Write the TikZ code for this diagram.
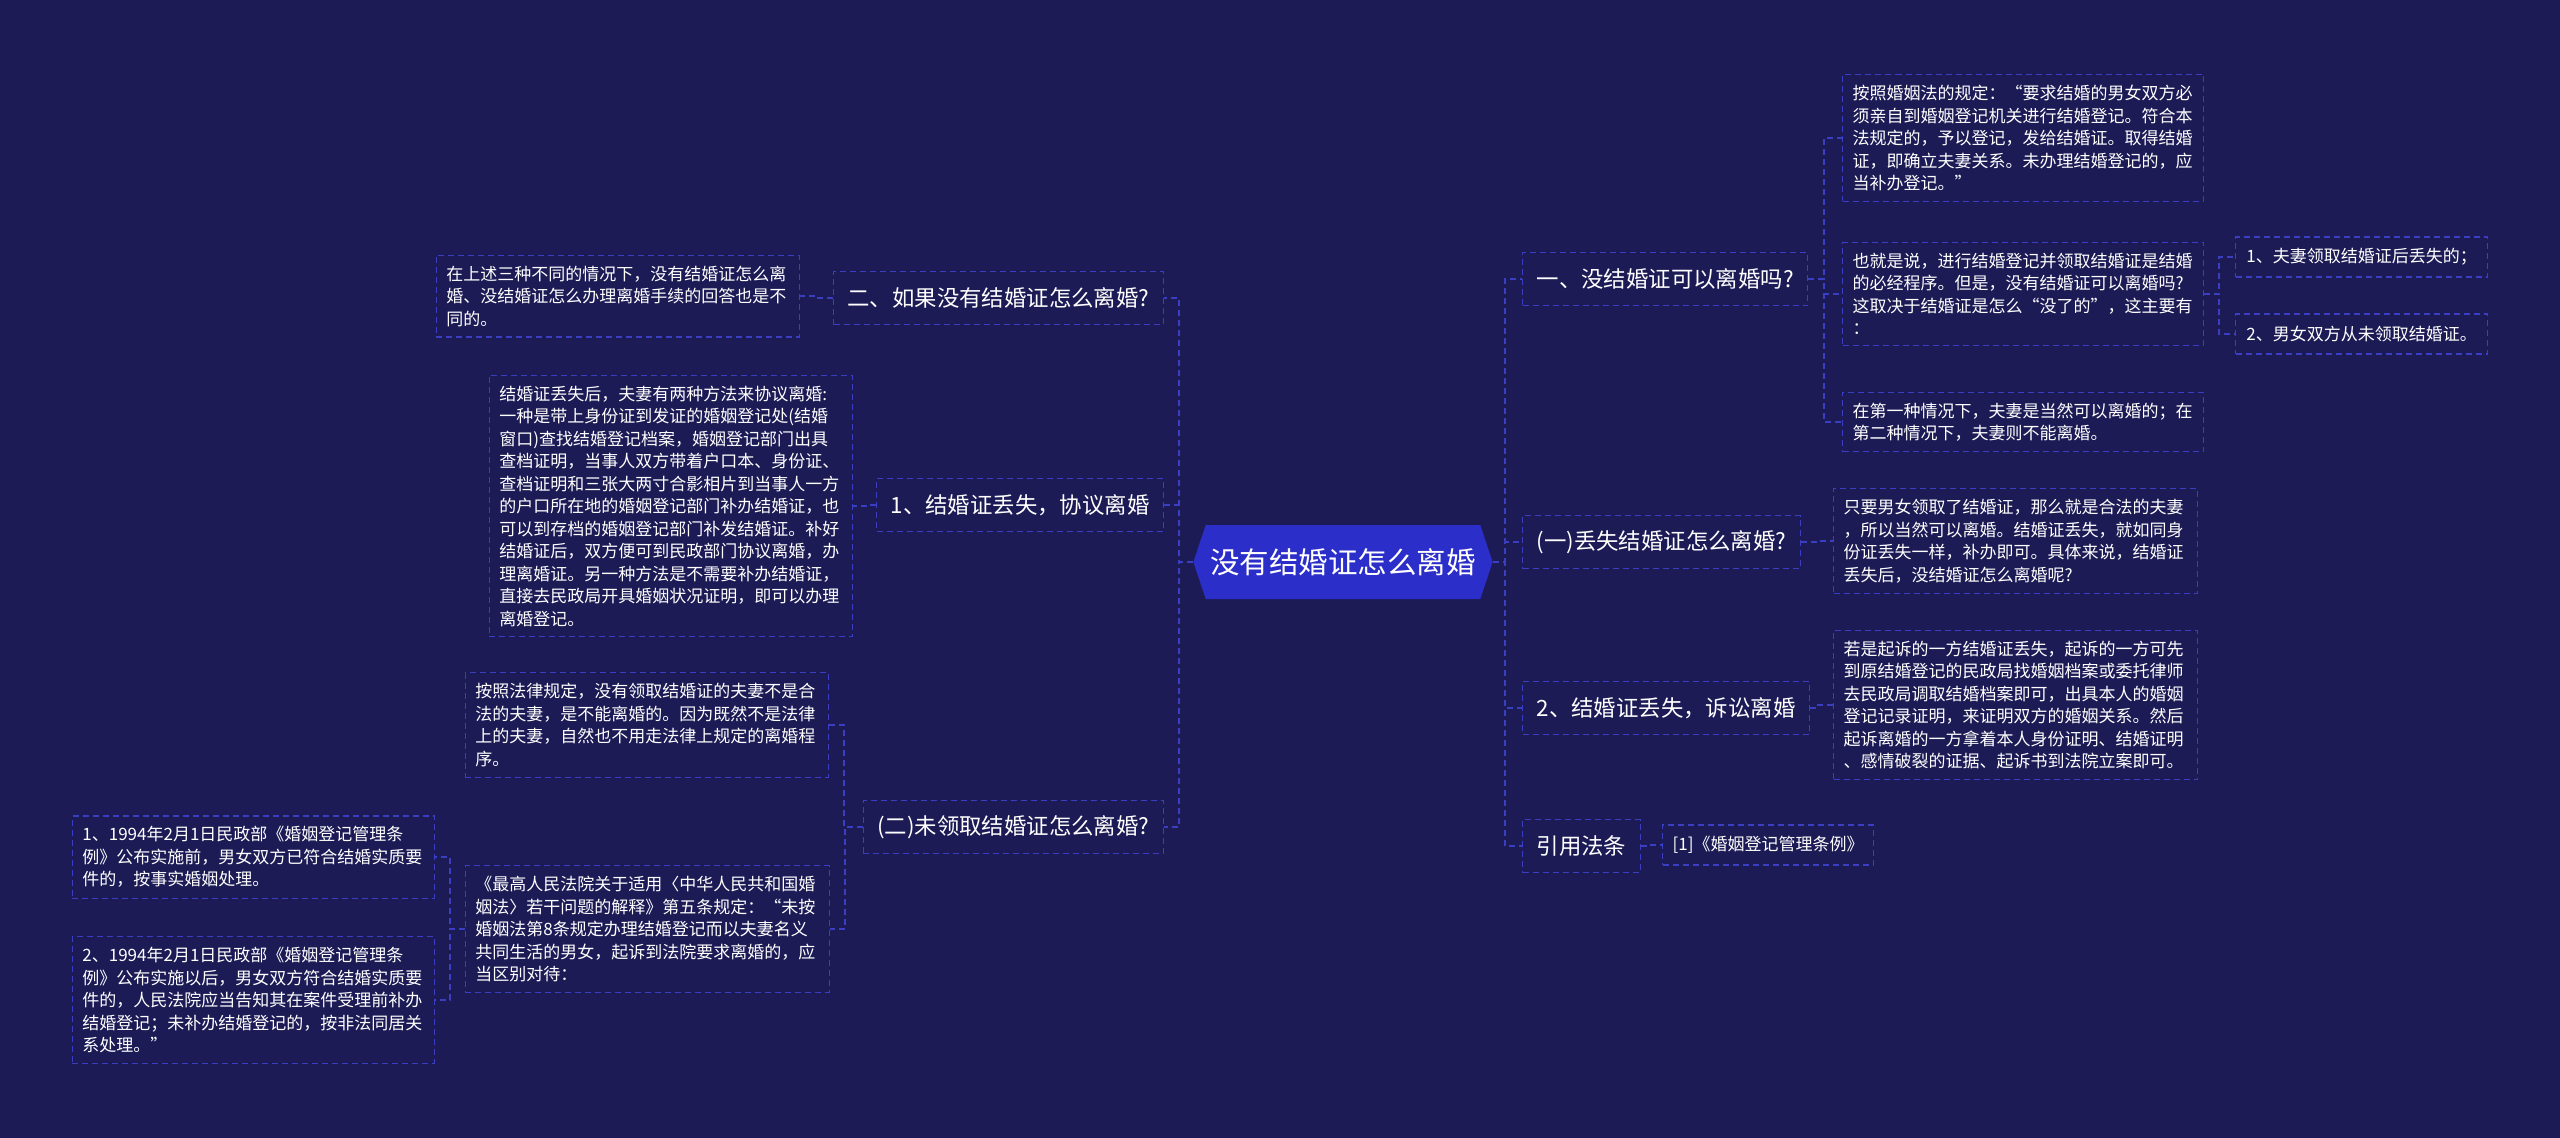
\documentclass[tikz,border=0pt]{standalone}
\usepackage{fontspec}
\setmainfont{Noto Sans CJK SC}
\usetikzlibrary{shapes.symbols}
\definecolor{cbg}{HTML}{1C1B56}
\definecolor{cblue}{HTML}{2B2EC8}
\definecolor{cdash}{HTML}{3A3FC2}

\begin{document}
\begin{tikzpicture}[x=1pt,y=-1pt,
  root/.style={shape=signal,signal to=east and west,signal pointer angle=143,
    fill=cblue,text=white,font=\fontsize{29.5}{33}\selectfont,
    minimum height=74pt,inner xsep=4.5pt,inner ysep=0pt},
  topic/.style={draw=cdash,line width=1.2pt,dash pattern=on 6pt off 4pt,
    text=white,font=\fontsize{22.4}{27}\selectfont,minimum height=53pt,inner xsep=14pt},
  note/.style={draw=cdash,line width=1.2pt,dash pattern=on 6pt off 4pt,
    text=white,font=\fontsize{17}{22.5}\selectfont,align=left,
    inner xsep=10pt,inner ysep=10.5pt,text width=#1},
  note/.default=341pt,
  leaf/.style={draw=cdash,line width=1.2pt,dash pattern=on 6pt off 4pt,
    text=white,font=\fontsize{17}{22.5}\selectfont,minimum height=40pt,inner xsep=10pt},
  link/.style={draw=cdash,line width=1.5pt,dash pattern=on 6pt off 4pt}]
  \useasboundingbox (0,0) rectangle (2560,1138);
  \fill[cbg] (0,0) rectangle (2560,1138);

  \node[root] (r) at (1343,562) {没有结婚证怎么离婚};

  % right branch
  \node[topic,anchor=west] (a) at (1522,279) {一、没结婚证可以离婚吗?};
  \node[topic,anchor=west] (b) at (1522,542) {(一)丢失结婚证怎么离婚?};
  \node[topic,anchor=west] (c) at (1522,708) {2、结婚证丢失，诉讼离婚};
  \node[topic,anchor=west] (d) at (1522,846) {引用法条};

  \node[note,anchor=west] (a1) at (1842,138) {按照婚姻法的规定：“要求结婚的男女双方必\\须亲自到婚姻登记机关进行结婚登记。符合本\\法规定的，予以登记，发给结婚证。取得结婚\\证，即确立夫妻关系。未办理结婚登记的，应\\当补办登记。”};
  \node[note,anchor=west] (a2) at (1842,294) {也就是说，进行结婚登记并领取结婚证是结婚\\的必经程序。但是，没有结婚证可以离婚吗?\\这取决于结婚证是怎么“没了的”，这主要有\\：};
  \node[note,anchor=west] (a3) at (1842,422) {在第一种情况下，夫妻是当然可以离婚的；在\\第二种情况下，夫妻则不能离婚。};
  \node[leaf,anchor=west,minimum width=252pt,align=left] (a21) at (2235,257) {1、夫妻领取结婚证后丢失的；};
  \node[leaf,anchor=west,minimum width=252pt,align=left] (a22) at (2235,334) {2、男女双方从未领取结婚证。};
  \node[note=344pt,anchor=west] (b1) at (1833,541) {只要男女领取了结婚证，那么就是合法的夫妻\\，所以当然可以离婚。结婚证丢失，就如同身\\份证丢失一样，补办即可。具体来说，结婚证\\丢失后，没结婚证怎么离婚呢?};
  \node[note=344pt,anchor=west] (c1) at (1833,705) {若是起诉的一方结婚证丢失，起诉的一方可先\\到原结婚登记的民政局找婚姻档案或委托律师\\去民政局调取结婚档案即可，出具本人的婚姻\\登记记录证明，来证明双方的婚姻关系。然后\\起诉离婚的一方拿着本人身份证明、结婚证明\\、感情破裂的证据、起诉书到法院立案即可。};
  \node[leaf,anchor=west] (d1) at (1662,845) {[1]《婚姻登记管理条例》};

  % left branch
  \node[topic,anchor=east] (e) at (1164,298) {二、如果没有结婚证怎么离婚?};
  \node[topic,anchor=east] (f) at (1164,505) {1、结婚证丢失，协议离婚};
  \node[topic,anchor=east] (g) at (1164,827) {(二)未领取结婚证怎么离婚?};

  \node[note=343pt,anchor=east] (e1) at (800,296) {在上述三种不同的情况下，没有结婚证怎么离\\婚、没结婚证怎么办理离婚手续的回答也是不\\同的。};
  \node[note=343pt,anchor=east] (f1) at (853,506) {结婚证丢失后，夫妻有两种方法来协议离婚:\\一种是带上身份证到发证的婚姻登记处(结婚\\窗口)查找结婚登记档案，婚姻登记部门出具\\查档证明，当事人双方带着户口本、身份证、\\查档证明和三张大两寸合影相片到当事人一方\\的户口所在地的婚姻登记部门补办结婚证，也\\可以到存档的婚姻登记部门补发结婚证。补好\\结婚证后，双方便可到民政部门协议离婚，办\\理离婚证。另一种方法是不需要补办结婚证，\\直接去民政局开具婚姻状况证明，即可以办理\\离婚登记。};
  \node[note=343pt,anchor=east] (g1) at (829,725) {按照法律规定，没有领取结婚证的夫妻不是合\\法的夫妻，是不能离婚的。因为既然不是法律\\上的夫妻，自然也不用走法律上规定的离婚程\\序。};
  \node[note=344pt,anchor=east] (g2) at (830,929) {《最高人民法院关于适用〈中华人民共和国婚\\姻法〉若干问题的解释》第五条规定：“未按\\婚姻法第8条规定办理结婚登记而以夫妻名义\\共同生活的男女，起诉到法院要求离婚的，应\\当区别对待：};
  \node[note=342pt,anchor=east] (g21) at (435,857) {1、1994年2月1日民政部《婚姻登记管理条\\例》公布实施前，男女双方已符合结婚实质要\\件的，按事实婚姻处理。};
  \node[note=342pt,anchor=east] (g22) at (435,1000) {2、1994年2月1日民政部《婚姻登记管理条\\例》公布实施以后，男女双方符合结婚实质要\\件的，人民法院应当告知其在案件受理前补办\\结婚登记；未补办结婚登记的，按非法同居关\\系处理。”};

  % connectors
  \draw[link] (r.east) -| ([xshift=-17pt]a.west) -- (a.west);
  \draw[link] (r.east) -| ([xshift=-17pt]b.west) -- (b.west);
  \draw[link] (r.east) -| ([xshift=-17pt]c.west) -- (c.west);
  \draw[link] (r.east) -| ([xshift=-17pt]d.west) -- (d.west);
  \draw[link] (a.east) -| ([xshift=-18pt]a1.west) -- (a1.west);
  \draw[link] (a.east) -| ([xshift=-18pt]a2.west) -- (a2.west);
  \draw[link] (a.east) -| ([xshift=-18pt]a3.west) -- (a3.west);
  \draw[link] (a2.east) -| ([xshift=-16pt]a21.west) -- (a21.west);
  \draw[link] (a2.east) -| ([xshift=-16pt]a22.west) -- (a22.west);
  \draw[link] (b.east) -| ([xshift=-16pt]b1.west) -- (b1.west);
  \draw[link] (c.east) -| ([xshift=-16pt]c1.west) -- (c1.west);
  \draw[link] (d.east) -| ([xshift=-16pt]d1.west) -- (d1.west);
  \draw[link] (r.west) -| ([xshift=15pt]e.east) -- (e.east);
  \draw[link] (r.west) -| ([xshift=15pt]f.east) -- (f.east);
  \draw[link] (r.west) -| ([xshift=15pt]g.east) -- (g.east);
  \draw[link] (e.west) -| ([xshift=15pt]e1.east) -- (e1.east);
  \draw[link] (f.west) -| ([xshift=15pt]f1.east) -- (f1.east);
  \draw[link] (g.west) -| ([xshift=15pt]g1.east) -- (g1.east);
  \draw[link] (g.west) -| ([xshift=15pt]g2.east) -- (g2.east);
  \draw[link] (g2.west) -| ([xshift=15pt]g21.east) -- (g21.east);
  \draw[link] (g2.west) -| ([xshift=15pt]g22.east) -- (g22.east);
\end{tikzpicture}
\end{document}
